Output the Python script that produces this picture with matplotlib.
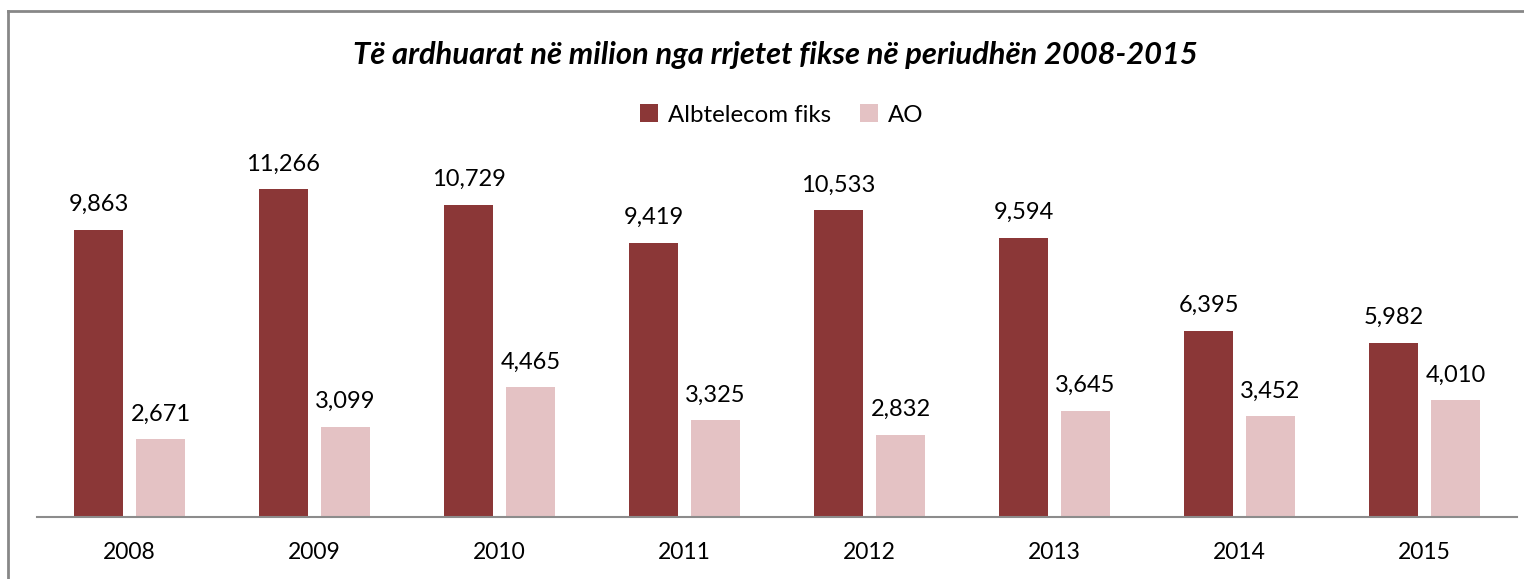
import numpy as np
import matplotlib.pyplot as plt
from matplotlib.lines import Line2D

plt.rcParams['font.family'] = ['Lato', 'DejaVu Sans']

years = ["2008", "2009", "2010", "2011", "2012", "2013", "2014", "2015"]
albtelecom = [9863, 11266, 10729, 9419, 10533, 9594, 6395, 5982]
ao = [2671, 3099, 4465, 3325, 2832, 3645, 3452, 4010]

W, H = 1524, 579
fig = plt.figure(figsize=(W / 100, H / 100), dpi=100)

# outer frame (only left and top edges are visible in the picture)
fig.add_artist(Line2D([8 / W, 8 / W], [0, 1 - 11 / H], transform=fig.transFigure, color="#878787", lw=2))
fig.add_artist(Line2D([8 / W, 1], [1 - 11 / H, 1 - 11 / H], transform=fig.transFigure, color="#878787", lw=2))

# plot area: categories span x 37..1517, baseline y 517
ax = fig.add_axes([37 / W, 1 - 517 / H, 1480 / W, 328 / H])
x = np.arange(len(years))
bw = 0.265
gap = 0.07
c1 = "#8B3737"
c2 = "#E4C2C4"
b1 = ax.bar(x - (bw + gap) / 2, albtelecom, bw, color=c1, label="Albtelecom fiks")
b2 = ax.bar(x + (bw + gap) / 2, ao, bw, color=c2, label="AO")

for bars, vals in ((b1, albtelecom), (b2, ao)):
    for r, v in zip(bars, vals):
        ax.text(r.get_x() + r.get_width() / 2, v + 500, f"{v:,}", ha="center", va="bottom", fontsize=17)

ax.set_xlim(-0.5, len(years) - 0.5)
ax.set_ylim(0, 11266)
ax.set_xticks(x)
ax.set_xticklabels(years, fontsize=16.5)
ax.tick_params(axis="x", length=0, pad=18)
ax.set_yticks([])
for s in ("top", "right", "left"):
    ax.spines[s].set_visible(False)
ax.spines["bottom"].set_color("#8c8c8c")
ax.spines["bottom"].set_linewidth(1.5)

fig.text(0.509, 1 - 55 / H, "Të ardhuarat në milion nga rrjetet fikse në periudhën 2008-2015",
         ha="center", va="center", fontsize=22.2, fontweight="bold", fontstyle="italic")

fig.legend(handles=[b1, b2], loc="center", bbox_to_anchor=(0.513, 1 - 115 / H), ncol=2, frameon=False,
           fontsize=17.3, handlelength=0.75, handleheight=0.75, handletextpad=0.4, columnspacing=1.2)

fig.savefig("out.png", dpi=100)
